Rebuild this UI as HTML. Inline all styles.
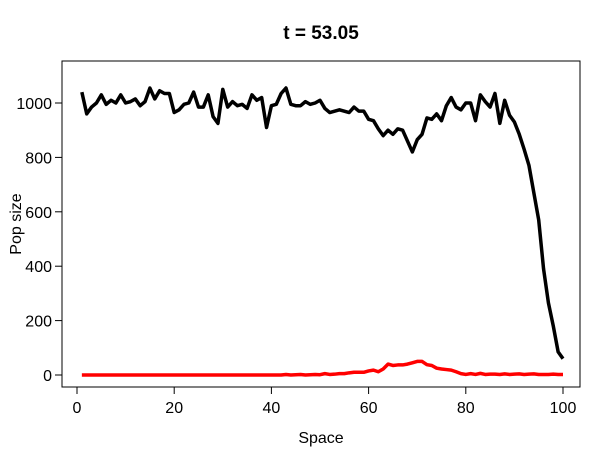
<!DOCTYPE html>
<html><head><meta charset="utf-8"><style>
body{margin:0;background:#fff}
svg text{font-family:"Liberation Sans",Arial,sans-serif;fill:#000}
</style></head><body>
<svg id="chart" width="600" height="450" xmlns="http://www.w3.org/2000/svg"></svg>
<script>
const xTicks=[0,20,40,60,80,100];
const yTicks=[0,200,400,600,800,1000];
const blackSeries=[1040,960,985,1000,1030,995,1010,1000,1030,1000,1005,1015,990,1005,1055,1015,1045,1035,1035,965,975,995,1000,1040,985,985,1030,950,925,1050,985,1005,990,995,980,1030,1010,1020,910,990,995,1035,1055,995,990,990,1005,995,1000,1010,980,965,970,975,970,965,985,970,970,940,935,905,880,900,885,905,900,860,820,865,885,945,940,960,935,990,1020,985,975,1000,1000,935,1030,1005,985,1035,925,1010,955,930,885,830,770,670,570,390,265,180,85,60];
const redSeries=[0,0,0,0,0,0,0,0,0,0,0,0,0,0,0,0,0,0,0,0,0,0,0,0,0,0,0,0,0,0,0,0,0,0,0,0,0,0,0,0,0,0,2,0,1,2,0,1,2,1,5,2,3,5,5,8,10,10,10,15,18,12,22,40,35,37,37,40,45,50,50,38,35,25,22,20,18,12,5,2,5,2,6,2,3,3,2,4,2,3,4,2,3,4,2,2,2,3,2,2];
const svg=document.getElementById('chart');
const NS='http://www.w3.org/2000/svg';
const L=62,R=580,T=61,B=387;
function xs(v){return 77+v*4.86;}
function ys(v){return 375-v*0.272;}
function mk(tag,attrs,parent){const e=document.createElementNS(NS,tag);for(const k in attrs)e.setAttribute(k,attrs[k]);(parent||svg).appendChild(e);return e;}
const box=mk('rect',{x:L,y:T,width:R-L,height:B-T,fill:'none',stroke:'#000','stroke-width':1});


xTicks.forEach(v=>{
  const g=mk('g',{});
  
  
  mk('line',{x1:xs(v),x2:xs(v),y1:B,y2:B+7,stroke:'#000'},g);
  const t=mk('text',{x:xs(v),y:B+26,'text-anchor':'middle','font-size':16},g);t.textContent=v;
});
yTicks.forEach(v=>{
  const g=mk('g',{});
  
  
  mk('line',{x1:L-7,x2:L,y1:ys(v),y2:ys(v),stroke:'#000'},g);
  const t=mk('text',{x:L-10,y:ys(v)+6,'text-anchor':'end','font-size':16},g);t.textContent=v;
});
function line(data,color,name){
  const p=mk('polyline',{points:data.map((v,i)=>xs(i+1)+','+ys(v)).join(' '),fill:'none',stroke:color,'stroke-width':3.5,'stroke-linejoin':'round'});
  
  
}
line(blackSeries,'#000','black-series-line');
line(redSeries,'#f00','red-series-line');
const title=mk('text',{x:321,y:39,'text-anchor':'middle','font-size':19,'font-weight':'bold'});
title.textContent='t = 53.05';


const xl=mk('text',{x:321,y:443,'text-anchor':'middle','font-size':16});
xl.textContent='Space';


const yl=mk('text',{x:0,y:0,'text-anchor':'middle','font-size':16,transform:'translate(21,224) rotate(-90)'});
yl.textContent='Pop size';


</script>
</body></html>
